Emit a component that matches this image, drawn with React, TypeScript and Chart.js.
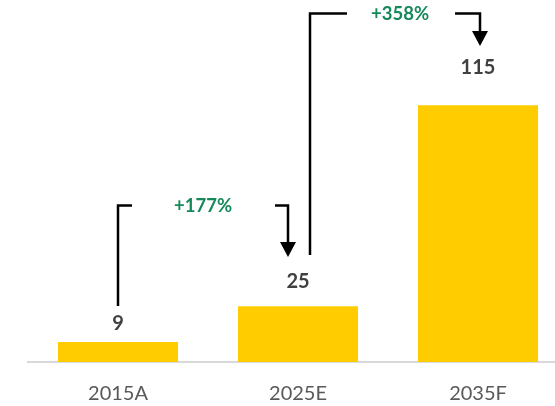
import React, { useEffect, useRef } from "react";
import { Chart, registerables } from "chart.js";

Chart.register(...registerables);

const categories = ["2015A", "2025E", "2035F"];
const values = [9, 25, 115];
const growthLabels = ["+177%", "+358%"];

const FONT = "Lato, 'Open Sans', sans-serif";

export default function App() {
  const ref = useRef<HTMLCanvasElement>(null);

  useEffect(() => {
    if (!ref.current) return;
    const labelGap = [18, 25, 38];
    const brackets = [
      { from: 0, to: 1, text: growthLabels[0], fromDx: 0, toDx: -10, bottom: 306, level: 205.5, tip: 257, leftEnd: 132, rightStart: 275, textX: 203 },
      { from: 1, to: 2, text: growthLabels[1], fromDx: 12, toDx: 2, bottom: 255, level: 13.5, tip: 46, leftEnd: 347, rightStart: 455, textX: 400 },
    ];

    const overlay = {
      id: "overlay",
      afterDatasetsDraw(chart: any) {
        const ctx = chart.ctx;
        const meta = chart.getDatasetMeta(0);
        ctx.save();
        ctx.font = `bold 20px ${FONT}`;
        ctx.fillStyle = "#404040";
        ctx.textAlign = "center";
        ctx.textBaseline = "middle";
        meta.data.forEach((bar: any, i: number) => {
          ctx.fillText(String(values[i]), bar.x, bar.y - labelGap[i]);
        });

        brackets.forEach((b) => {
          const x1 = meta.data[b.from].x + b.fromDx;
          const x2 = meta.data[b.to].x + b.toDx;
          const headH = 15;
          const headW = 8;
          ctx.strokeStyle = "#000";
          ctx.lineWidth = 2.5;
          ctx.lineCap = "butt";
          ctx.lineJoin = "miter";
          ctx.beginPath();
          ctx.moveTo(x1, b.bottom);
          ctx.lineTo(x1, b.level);
          ctx.lineTo(b.leftEnd, b.level);
          ctx.moveTo(b.rightStart, b.level);
          ctx.lineTo(x2, b.level);
          ctx.lineTo(x2, b.tip - headH + 1);
          ctx.stroke();
          ctx.fillStyle = "#000";
          ctx.beginPath();
          ctx.moveTo(x2 - headW, b.tip - headH);
          ctx.lineTo(x2 + headW, b.tip - headH);
          ctx.lineTo(x2, b.tip);
          ctx.closePath();
          ctx.fill();

          ctx.font = `bold 18.5px ${FONT}`;
          ctx.fillStyle = "#15895A";
          ctx.fillText(b.text, b.textX, b.level + 1);
        });
        ctx.restore();
      },
    };

    const chart = new Chart(ref.current, {
      type: "bar",
      data: {
        labels: categories,
        datasets: [
          {
            data: values,
            backgroundColor: "#FFCC00",
            barPercentage: 0.667,
            categoryPercentage: 1,
          },
        ],
      },
      options: {
        responsive: false,
        animation: false,
        layout: { padding: { left: 28, right: 7, top: 27, bottom: 4 } },
        plugins: { legend: { display: false }, tooltip: { enabled: false } },
        scales: {
          x: {
            grid: { display: false, drawTicks: false },
            border: { display: true, color: "#D9D9D9", width: 2 },
            ticks: { color: "#595959", font: { family: FONT, size: 20 }, padding: 20 },
          },
          y: { display: false, min: 0, max: 150 },
        },
      },
      plugins: [overlay],
    });
    return () => chart.destroy();
  }, []);

  return (
    <div
      style={{
        position: "fixed",
        left: 0,
        top: 0,
        width: 555,
        height: 406,
        overflow: "hidden",
        background: "#fff",
      }}
    >
      <canvas ref={ref} width={575} height={430} style={{ display: "block" }} />
    </div>
  );
}
